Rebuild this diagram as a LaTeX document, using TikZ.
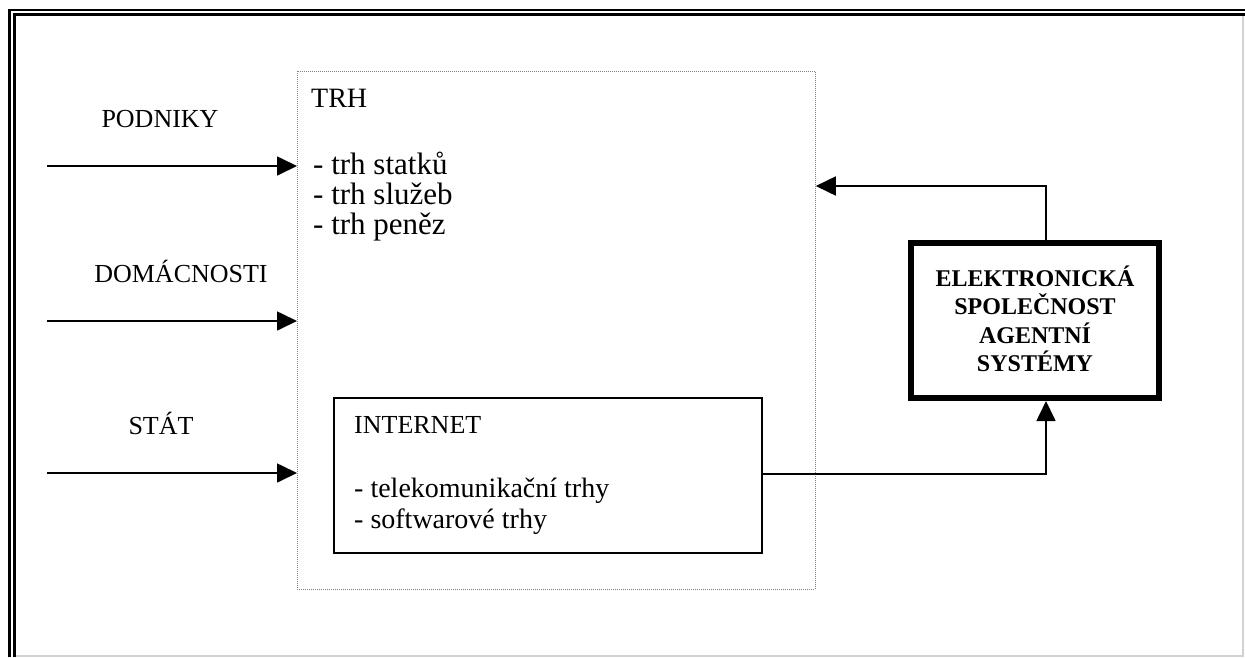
\documentclass[tikz,border=0pt]{standalone}
\usepackage{fontspec}
\setmainfont{Liberation Serif}
\usetikzlibrary{arrows.meta}
\begin{document}
\begin{tikzpicture}[x=1pt,y=-1pt,
  conn/.style={line width=1.7pt, -{Triangle[length=20pt,width=19pt]}},
  lbl/.style={anchor=base, inner sep=0pt, font=\fontsize{26}{30}\selectfont},
  item/.style={anchor=base west, inner sep=0pt, font=\fontsize{31}{34}\selectfont},
  iitem/.style={anchor=base west, inner sep=0pt, font=\fontsize{28}{32}\selectfont},
  head/.style={anchor=base west, inner sep=0pt, font=\fontsize{28}{30}\selectfont},
  nethead/.style={anchor=base west, inner sep=0pt, font=\fontsize{26}{30}\selectfont},
  bold/.style={anchor=base, inner sep=0pt, font=\fontsize{24}{28}\selectfont\bfseries},
  trhbox/.style={draw=gray, dash pattern=on 1pt off 1pt, line width=0.8pt, inner sep=0pt, anchor=north west},
  netbox/.style={draw=black, line width=1.5pt, inner sep=0pt, anchor=north west},
  elbox/.style={draw=black, line width=6pt, inner sep=0pt},
]
\useasboundingbox (0,0) rectangle (1245,657);
% page frame
\draw[line width=2.5pt] (9.5,657) -- (9.5,10) -- (1245,10);
\draw[line width=3pt] (14.5,657) -- (14.5,14.5) -- (1245,14.5);
\draw[gray!35, line width=1.2pt] (16,656) -- (1243,656) -- (1243,16);

% boxes
\node[trhbox, minimum width=518pt, minimum height=518pt] (trh) at (297,71) {};
\node[netbox, minimum width=428pt, minimum height=155pt] (net) at (333,397) {};
\node[elbox, minimum width=248pt, minimum height=155pt] (el) at (1035,320.5) {};

% TRH texts
\node[head] (trhT) at (311,107) {TRH};
\node[item] (i1) at (313,174) {- trh statků};
\node[item] (i2) at (313,204) {- trh služeb};
\node[item] (i3) at (313,234) {- trh peněz};

% INTERNET texts
\node[nethead] (netT) at (354,433) {INTERNET};
\node[iitem] (n1) at (354,497) {- telekomunikační trhy};
\node[iitem] (n2) at (354,528) {- softwarové trhy};

% Elektronicka texts
\node[bold] (e1) at (1035,286) {ELEKTRONICKÁ};
\node[bold] (e2) at (1035,314.5) {SPOLEČNOST};
\node[bold] (e3) at (1035,343) {AGENTNÍ};
\node[bold] (e4) at (1035,371.5) {SYSTÉMY};

% left labels
\node[lbl] (podniky) at (160,127) {PODNIKY};
\node[lbl] (domac) at (181,282) {DOMÁCNOSTI};
\node[lbl] (stat) at (161,434) {STÁT};

% left arrows
\coordinate (s1) at (47,166);
\coordinate (s2) at (47,321);
\coordinate (s3) at (47,473);
\draw[conn] (s1) -- (trh.west |- s1);
\draw[conn] (s2) -- (trh.west |- s2);
\draw[conn] (s3) -- (trh.west |- s3);

% feedback arrows
\coordinate (top) at (1046,186);
\coordinate (bot) at (1046,474);
\draw[conn] (el.north -| top) -- (top) -- (trh.east |- top);
\draw[conn] (net.east |- bot) -- (bot) -- (el.south -| bot);
\end{tikzpicture}
\end{document}
